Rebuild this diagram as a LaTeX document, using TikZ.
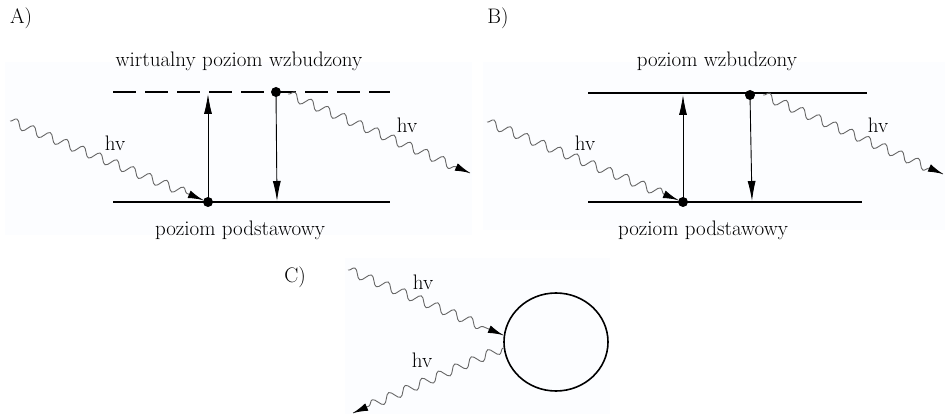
\documentclass[tikz,border=0pt]{standalone}
\usetikzlibrary{arrows.meta,decorations.pathmorphing,calc,shapes.geometric}
\begin{document}
\begin{tikzpicture}[x=1pt,y=-1pt,
  level/.style={line width=1.8pt},
  dashlevel/.style={line width=1.8pt,dash pattern=on 23pt off 9pt},
  trans/.style={line width=0.9pt,-{Latex[length=20pt,width=8pt]}},
  dot/.style={circle,fill=black,inner sep=0pt,minimum size=10pt},
  photon/.style={draw=black!60,line width=0.9pt,decorate,decoration={snake,amplitude=4.5pt,segment length=18pt,post length=14pt}},
  photonhead/.style={line width=0.9pt,-{Latex[length=15pt,width=8pt]}},
  lbl/.style={font=\fontsize{21}{24}\selectfont,inner sep=0pt},
  bgpanel/.style={fill={rgb,255:red,252;green,253;blue,255},draw=none}]
\useasboundingbox (0,0) rectangle (945,414);
\fill[white] (0,0) rectangle (945,414);
% faint background panels
\fill[bgpanel] (5,62) rectangle (472,235);
\fill[bgpanel] (483,62) rectangle (945,230);
\fill[bgpanel] (345,258) rectangle (610,414);

% ---------- Panel A ----------
\node[lbl] (A-tag) at (21,18) {A)};
\node[lbl] (A-top) at (239,61) {wirtualny poziom wzbudzony};
\node[lbl] (A-bot) at (240,230) {poziom podstawowy};
\coordinate (A-el) at (113,92);
\coordinate (A-er) at (390,92);
\coordinate (A-gl) at (113,202);
\coordinate (A-gr) at (390,202);
\draw[dashlevel] (A-el) -- (A-er);
\draw[level] (A-gl) -- (A-gr);
\node[dot] (A-d1) at (208,202) {};
\node[dot] (A-d2) at (276,92) {};
\coordinate (A-up) at (208,94);
\coordinate (A-down) at (277,201);
\draw[trans] (A-d1.center) -- (A-up);
\draw[trans] (A-d2.center) -- (A-down);
\coordinate (A-in) at (10,121);
\coordinate (A-inend) at (203,200);
\draw[photon] (A-in) -- (A-inend);
\draw[photonhead] ($(A-inend)!15pt!(A-in)$) -- (A-inend);
\coordinate (A-o0) at (288,94);
\coordinate (A-out) at (470,173);
\draw[photon] (A-o0) -- (A-out);
\draw[photonhead] ($(A-out)!15pt!(A-o0)$) -- (A-out);
\node[lbl] (A-hv1) at (115,143) {hv};
\node[lbl] (A-hv2) at (407,125) {hv};

% ---------- Panel B ----------
\node[lbl] (B-tag) at (498,18) {B)};
\node[lbl] (B-top) at (717,61) {poziom wzbudzony};
\node[lbl] (B-bot) at (703,230) {poziom podstawowy};
\coordinate (B-el) at (588,93);
\coordinate (B-er) at (867,93);
\coordinate (B-gl) at (588,202);
\coordinate (B-gr) at (862,202);
\draw[level] (B-el) -- (B-er);
\draw[level] (B-gl) -- (B-gr);
\node[dot] (B-d1) at (683,202) {};
\node[dot] (B-d2) at (750,95) {};
\coordinate (B-up) at (683,95);
\coordinate (B-down) at (752,201);
\draw[trans] (B-d1.center) -- (B-up);
\draw[trans] (B-d2.center) -- (B-down);
\coordinate (B-in) at (487,122);
\coordinate (B-inend) at (678,200);
\draw[photon] (B-in) -- (B-inend);
\draw[photonhead] ($(B-inend)!15pt!(B-in)$) -- (B-inend);
\coordinate (B-o0) at (763,95);
\coordinate (B-out) at (943,174);
\draw[photon] (B-o0) -- (B-out);
\draw[photonhead] ($(B-out)!15pt!(B-o0)$) -- (B-out);
\node[lbl] (B-hv1) at (585,143) {hv};
\node[lbl] (B-hv2) at (878,125) {hv};

% ---------- Panel C ----------
\node[lbl] (C-tag) at (295,277) {C)};
\node[draw,line width=1.6pt,ellipse,minimum width=104pt,minimum height=98pt,inner sep=0pt] (C-ball) at (556,342) {};
\coordinate (C-in) at (348,270);
\coordinate (C-inend) at (503,335);
\draw[photon] (C-in) -- (C-inend);
\draw[photonhead] ($(C-inend)!15pt!(C-in)$) -- (C-inend);
\coordinate (C-o0) at (503,348);
\coordinate (C-out) at (353,413);
\draw[photon] (C-o0) -- (C-out);
\draw[photonhead] ($(C-out)!15pt!(C-o0)$) -- (C-out);
\node[lbl] (C-hv1) at (423,282) {hv};
\node[lbl] (C-hv2) at (422,360) {hv};
\end{tikzpicture}
\end{document}
